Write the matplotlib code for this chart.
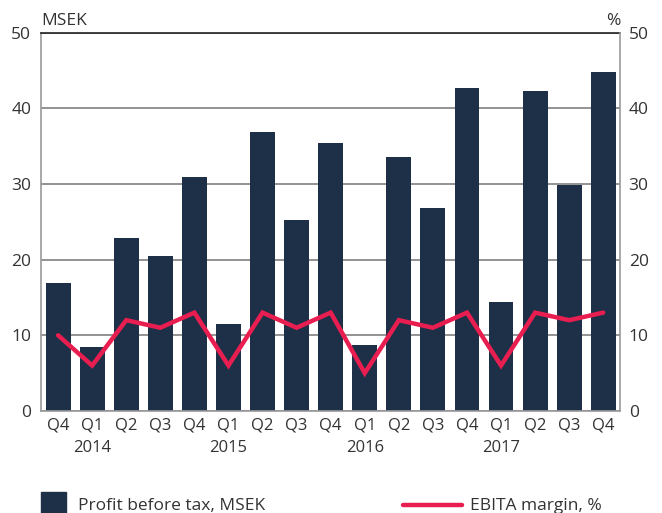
import matplotlib
matplotlib.use('Agg')
import matplotlib.pyplot as plt
from matplotlib.patches import Rectangle
from matplotlib.lines import Line2D

plt.rcParams['font.family'] = ['Open Sans', 'DejaVu Sans']

quarters = ['Q4', 'Q1', 'Q2', 'Q3', 'Q4', 'Q1', 'Q2', 'Q3', 'Q4',
            'Q1', 'Q2', 'Q3', 'Q4', 'Q1', 'Q2', 'Q3', 'Q4']
years = {1: '2014', 5: '2015', 9: '2016', 13: '2017'}
profit = [16.9, 8.5, 22.9, 20.5, 30.9, 11.5, 36.9, 25.2, 35.4,
          8.7, 33.6, 26.9, 42.7, 14.4, 42.3, 29.9, 44.8]
ebita = [10, 6, 12, 11, 13, 6, 13, 11, 13, 5, 12, 11, 13, 6, 13, 12, 13]

bar_color = '#1e3048'
line_color = '#e91e50'
text_color = '#333333'
grid_color = '#8a8a8a'

fig = plt.figure(figsize=(6.62, 5.13), dpi=100)
ax = fig.add_axes([0.062, 0.199, 0.875, 0.737])

x = list(range(len(quarters)))
ax.bar(x, profit, width=0.73, color=bar_color, zorder=2)
ax.set_xlim(-0.5, len(quarters) - 0.5)
ax.set_ylim(0, 50)
ax.set_yticks([0, 10, 20, 30, 40, 50])
ax.yaxis.grid(True, color=grid_color, linewidth=1.3, zorder=0)
ax.set_axisbelow(True)

labels = [q + ('\n' + years[i] if i in years else '\n') for i, q in enumerate(quarters)]
ax.set_xticks(x)
ax.set_xticklabels(labels, linespacing=1.5)
ax.tick_params(axis='both', length=0, labelsize=12, colors=text_color)
ax.tick_params(axis='x', pad=5)
ax.tick_params(axis='y', labelsize=12.5, pad=7)

for side in ['left', 'bottom']:
    ax.spines[side].set_color('#999999')
    ax.spines[side].set_linewidth(1.2)
ax.spines['top'].set_color('#222222')
ax.spines['top'].set_linewidth(1.2)
ax.spines['right'].set_visible(False)

ax2 = ax.twinx()
ax2.plot(x, ebita, color=line_color, linewidth=3.2, solid_joinstyle='miter',
         solid_capstyle='round', zorder=3)
ax2.set_ylim(0, 50)
ax2.set_yticks([0, 10, 20, 30, 40, 50])
ax2.tick_params(axis='y', length=0, labelsize=12.5, colors=text_color, pad=6)
for side in ['left', 'top', 'bottom']:
    ax2.spines[side].set_visible(False)
ax2.spines['right'].set_color('#999999')
ax2.spines['right'].set_linewidth(1.2)

ax.text(0.0, 1.01, 'MSEK', transform=ax.transAxes, ha='left', va='bottom',
        fontsize=12.5, color=text_color)
ax.text(1.0, 1.01, '%', transform=ax.transAxes, ha='right', va='bottom',
        fontsize=12.5, color=text_color)

# legend
fig.patches.append(Rectangle((41 / 662, -0.01), 25 / 662, 26 / 513,
                             transform=fig.transFigure, color=bar_color))
fig.text(78 / 662, 7 / 513, 'Profit before tax, MSEK', fontsize=12.5,
         color=text_color, va='center', ha='left')
fig.lines.append(Line2D([403 / 662, 462 / 662], [8 / 513, 8 / 513],
                        transform=fig.transFigure, color=line_color,
                        linewidth=3.2, solid_capstyle='round'))
fig.text(470 / 662, 7 / 513, 'EBITA margin, %', fontsize=12.5,
         color=text_color, va='center', ha='left')

fig.savefig('out.png', dpi=100)
